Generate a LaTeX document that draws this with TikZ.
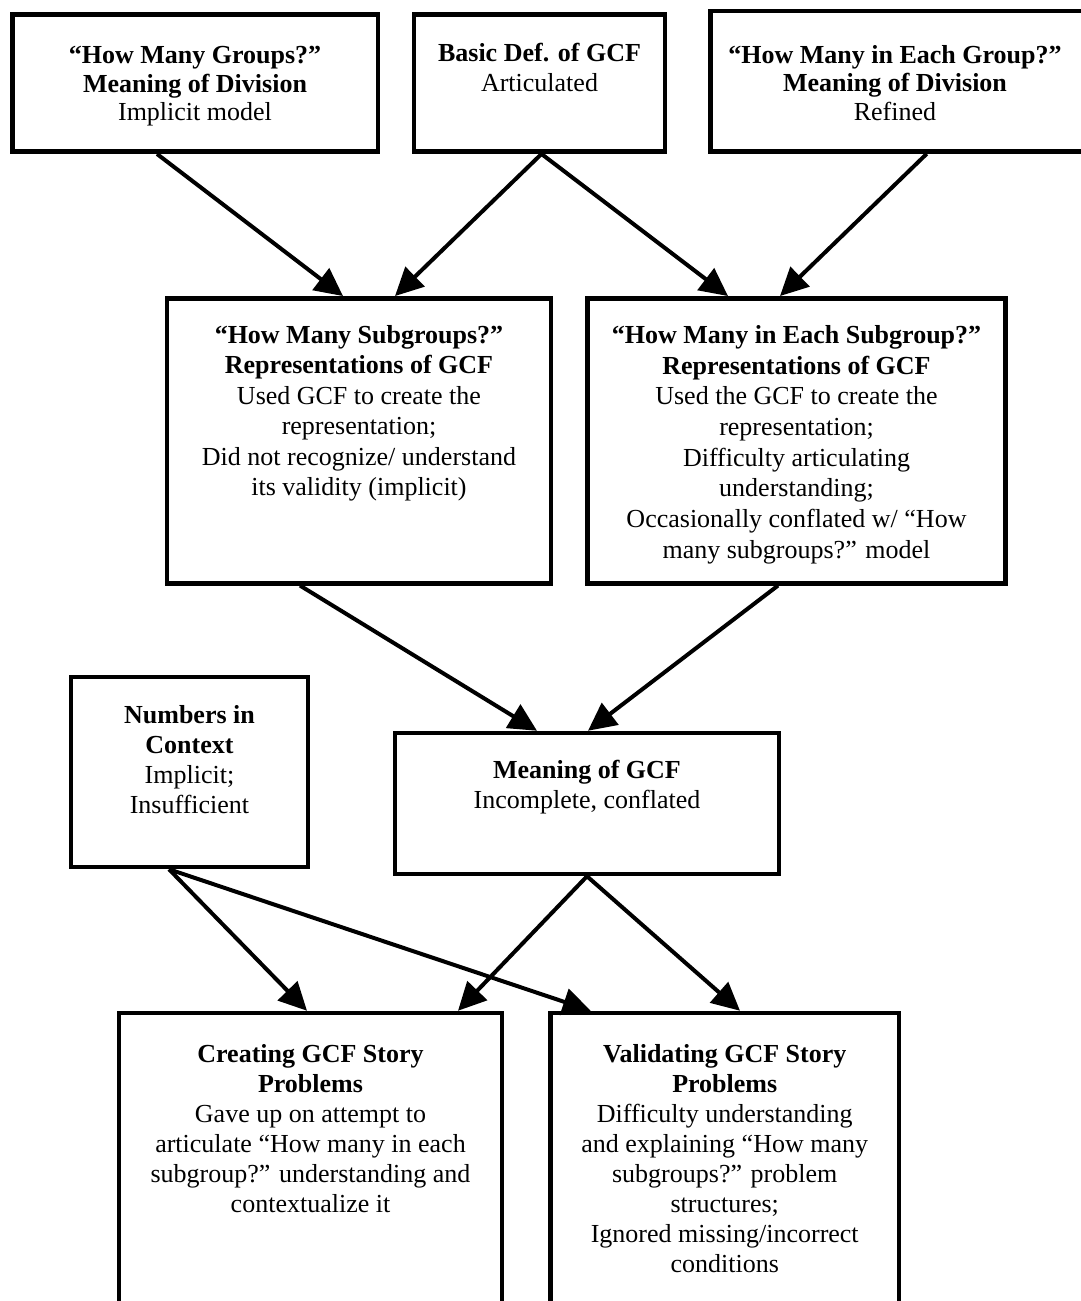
\documentclass[tikz,border=0pt]{standalone}
\usepackage{fontspec}
\setmainfont{Liberation Serif}
\usetikzlibrary{arrows.meta,calc}
\begin{document}
\begin{tikzpicture}[x=1pt,y=-1pt,
  box/.style={draw=black, line width=4.5pt, inner sep=0pt, rectangle},
  txt/.style={anchor=north, align=center, inner sep=0pt, font=\fontsize{26}{30}\selectfont},
  tight/.style={font=\fontsize{26}{28.5}\selectfont},
  arr/.style={line width=4pt, -{Triangle[length=28pt,width=27pt]}}
]
\useasboundingbox (0,0) rectangle (1081,1301);
\clip (0,0) rectangle (1081,1301);

% boxes
\node[box, minimum width=365.5pt, minimum height=137.2pt] (A) at (195.25,83.1) {};
\node[box, minimum width=251pt,   minimum height=137pt]   (B) at (539.5,83.2) {};
\node[box, minimum width=377.5pt, minimum height=140.7pt] (C) at (899.25,81.15) {};
\node[box, minimum width=384pt,   minimum height=285pt]   (D) at (359,440.8) {};
\node[box, minimum width=418pt,   minimum height=285pt]   (E) at (796.5,440.8) {};
\node[box, minimum width=237pt,   minimum height=190pt]   (F) at (189.5,772) {};
\node[box, minimum width=384pt,   minimum height=141pt]   (G) at (587,803.5) {};
\node[box, minimum width=383pt,   minimum height=307pt]   (H) at (310.5,1166.5) {};
\node[box, minimum width=348.5pt, minimum height=307pt]   (I) at (724.75,1166.5) {};

% box texts
\node[txt, tight] (A-t) at (195,46.2)
  {\textbf{“How Many Groups?”}\\ \textbf{Meaning of Division}\\ Implicit model};
\node[txt] (B-t) at (539.5,43.2)
  {\textbf{Basic Def. of GCF}\\ Articulated};
\node[txt, tight] (C-t) at (895,45.2)
  {\textbf{“How Many in Each Group?”}\\ \textbf{Meaning of Division}\\ Refined};
\node[txt, font=\fontsize{26}{30.4}\selectfont] (D-t) at (359,325.2)
  {\textbf{“How Many Subgroups?”}\\ \textbf{Representations of GCF}\\
   Used GCF to create the\\ representation;\\
   Did not recognize/ understand\\ its validity (implicit)};
\node[txt, font=\fontsize{26}{30.7}\selectfont] (E-t) at (796.5,325.2)
  {\textbf{“How Many in Each Subgroup?”}\\ \textbf{Representations of GCF}\\
   Used the GCF to create the\\ representation;\\
   Difficulty articulating\\ understanding;\\
   Occasionally conflated w/ “How\\ many subgroups?” model};
\node[txt] (F-t) at (189.5,705.2)
  {\textbf{Numbers in}\\ \textbf{Context}\\ Implicit;\\ Insufficient};
\node[txt] (G-t) at (587,760.2)
  {\textbf{Meaning of GCF}\\ Incomplete, conflated};
\node[txt] (H-t) at (310.5,1044.2)
  {\textbf{Creating GCF Story}\\ \textbf{Problems}\\
   Gave up on attempt to\\ articulate “How many in each\\
   subgroup?” understanding and\\ contextualize it};
\node[txt] (I-t) at (724.75,1044.2)
  {\textbf{Validating GCF Story}\\ \textbf{Problems}\\
   Difficulty understanding\\ and explaining “How many\\
   subgroups?” problem\\ structures;\\
   Ignored missing/incorrect\\ conditions};

% connectors
\draw[arr] ([xshift=-38.25pt]A.south) -- ([xshift=-16pt]D.north);
\draw[arr] ([xshift=2pt]B.south)      -- ([xshift=36pt]D.north);
\draw[arr] ([xshift=2pt]B.south)      -- ([xshift=-68.5pt]E.north);
\draw[arr] ([xshift=27.5pt]C.south)   -- ([xshift=-16.5pt]E.north);
\draw[arr] ([xshift=-59pt]D.south)    -- ([xshift=-50pt]G.north);
\draw[arr] ([xshift=-18.5pt]E.south)  -- ([xshift=1pt]G.north);
\draw[arr] ([xshift=-20.5pt]F.south)  -- ([xshift=-3.5pt]H.north);
\draw[arr] ([xshift=-20.5pt]F.south)  -- ([xshift=-134pt]I.north);
\draw[arr] (G.south)                  -- ([xshift=147.5pt]H.north);
\draw[arr] (G.south)                  -- ([xshift=15.25pt]I.north);
\end{tikzpicture}
\end{document}
